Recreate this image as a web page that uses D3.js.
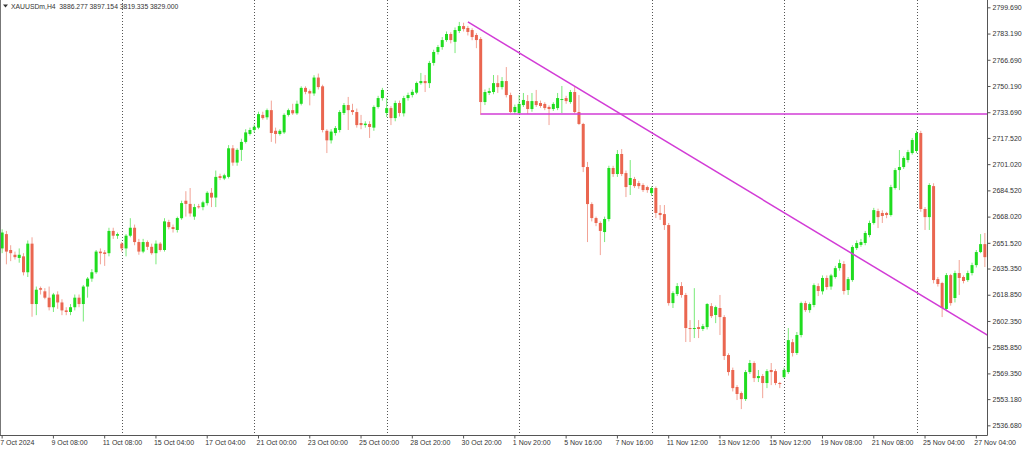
<!DOCTYPE html>
<html><head><meta charset="utf-8">
<script src="https://cdn.jsdelivr.net/npm/d3@7"></script>
<style>html,body{margin:0;padding:0;background:#fff;overflow:hidden}svg text{font-family:"Liberation Sans",Arial,sans-serif}</style>
</head><body><svg id="c" width="1024" height="449"></svg>
<script>
const symbolTitle = "XAUUSDm,H4";
const titleValues = "3886.277 3897.154 3819.335 3829.000";

const openP = [
2648,2657,2647,2644,2642,2643,2633,2651,2613,2623,
2621,2617,2611,2619,2614,2609,2608,2611,2617,2613,
2624,2629,2633,2646,2645.5,2645,2659,2656,2651,2648,
2656,2661,2652,2646,2652,2649,2645,2651,2647,2664.6,
2661.4,2659.6,2667,2678,2676,2668,2674.5,2674,2676.5,2683,
2680,2693.5,2692,2693,2711,2702,2710,2715,2720,2722.5,
2724,2732,2730.5,2735,2722,2720,2721,2732,2735,2733,
2739,2749,2747,2745.5,2755.5,2750,2722,2716,2720.6,2722.5,
2733.2,2738.2,2735,2733.8,2726.9,2725.6,2726.3,2724,2737,2742.6,
2733.2,2736.3,2730,2739.5,2733,2742.6,2744.5,2746,2752,2753.3,
2752,2764.7,2771.6,2774.7,2779.1,2782.9,2778,2784.8,2787.9,2786.7,
2785.4,2782.3,2779.8,2740.1,2745.8,2746.4,2752,2749.5,2753.3,2744.5,
2733.8,2733.2,2738.2,2740.7,2735.7,2740.7,2739.5,2738.9,2737,2735.7,
2736.3,2741.4,2742.6,2740.1,2746.4,2733.8,2726.3,2699.2,2675.9,2667.1,
2664,2658.3,2666.5,2698.6,2694.8,2707.4,2695.4,2687.9,2691.7,2689.1,
2687.9,2686.6,2682.8,2686,2670.3,2669.6,2662.7,2613.6,2619.3,2624.3,
2618.7,2597.9,2597.3,2598.5,2597.3,2598.5,2611.7,2606.1,2610.5,2604.8,
2580.9,2571.5,2560.8,2557,2553.2,2570.2,2575.9,2566.4,2567.7,2563.3,
2571.5,2570.8,2563.3,2567,2570.2,2589,2582.2,2593.5,2613.6,2609.2,
2612.4,2624.3,2621,2629.4,2624,2630,2635.6,2638.2,2621.8,2628.1,
2648.2,2650.2,2651.4,2656.4,2664,2671.5,2670.3,2670.3,2669,2686,
2697.3,2699.2,2703.6,2708,2709.3,2720.6,2672.8,2667.7,2687.2,2628.7,
2626.2,2609.9,2631.2,2616.8,2632.5,2630,2628.1,2632.5,2637.5,2645.7,
2650.7];

const highP = [
2660,2659,2650,2646,2648,2645,2653,2655,2624,2624,
2623,2624,2620,2621,2616,2611,2613,2619,2619,2625,
2630,2635,2647,2648,2647,2661,2661,2658,2652,2657,
2667,2663,2654,2654,2653,2651,2653,2652,2667,2666,
2663,2668,2678,2684,2686,2676,2676,2678,2684,2686,
2697,2695,2695,2713,2713,2711,2717,2723,2724,2726,
2734,2734,2736,2741,2724,2723,2733,2736,2739,2741,
2750,2750,2748,2757,2758,2751,2723,2723,2725,2735,
2739.5,2743.3,2739,2736,2732,2728,2728,2738,2744,2749,
2742.6,2737.5,2741,2741,2744,2746,2748,2753,2758.4,2757.1,
2766,2773,2776,2781,2784.5,2784,2787,2790.5,2790,2788,
2786.5,2783.5,2781,2748,2749,2757.1,2757,2755.8,2762.1,2746,
2738.5,2744.5,2745.8,2744.5,2745.8,2747.7,2741,2740,2738,2740,
2745.8,2750.2,2744,2747.7,2749.5,2744.5,2727,2702.4,2677,2668,
2665,2668,2700,2700,2709.9,2710.5,2697,2703.6,2693,2690.5,
2689,2687.5,2687,2687,2675.3,2675.3,2664,2621,2626.2,2626.8,
2620,2602.9,2623,2602.9,2600.5,2613.6,2613.6,2612,2618.7,2606,
2582,2573,2562,2558,2571.5,2577.8,2577,2571.5,2569,2572,
2575.9,2572,2564,2573,2597.9,2591,2595.4,2614.5,2615,2614,
2626,2626,2631,2631,2632,2637,2641,2640,2630,2650,
2653,2654,2659,2665.5,2673.5,2673,2672,2671,2688,2698.5,
2709.9,2706,2710,2717.5,2722,2722,2674,2689,2689,2630,
2627,2632.5,2632,2634,2640.7,2631,2634,2639,2647,2657,
2657.7];

const lowP = [
2645,2638,2640,2641,2639,2631,2630,2605,2606,2619,
2616,2609,2608,2610,2606,2606,2606,2609,2611,2602,
2617,2627,2632,2638,2637,2643,2654,2654,2646,2643,
2655,2650,2644,2645,2647,2644,2638,2646,2646,2660,
2658,2658,2666,2668,2668,2666,2673,2672,2675,2674,
2674,2691,2691,2692,2700,2700,2703,2714,2719,2721,
2723,2729,2729,2715,2714,2719,2720,2731,2732,2732,
2738,2745,2738,2744,2748,2721,2708,2714,2719,2721,
2732,2722.5,2732,2724,2723,2724,2717.5,2722,2736,2741,
2730.7,2725.6,2728,2731,2731,2741,2743,2745,2751,2746.4,
2748.9,2763,2770,2773,2778,2777,2770.9,2783.5,2784.5,2782,
2779,2774,2732,2738.2,2744.5,2745,2745.8,2748,2743,2733.2,
2732.5,2732.3,2737,2732.6,2734,2737,2736.5,2735,2725.6,2734.5,
2735,2733.2,2739,2739,2733,2725.6,2696,2652,2665,2662,
2643.8,2652,2665,2693,2693,2693.5,2680.3,2681.6,2686,2685.5,
2683.5,2683,2681,2667.1,2665.9,2659.6,2612,2610.5,2618,2617,
2589.1,2589.1,2591.6,2591.6,2596,2597,2604.2,2601,2593.5,2577.8,
2568,2558,2552.6,2546.9,2552,2569,2563.9,2563.9,2553.8,2560.1,
2562,2562,2560.1,2566.4,2569,2580,2581,2592,2608,2607.5,
2611,2618,2619,2622,2622,2629,2634,2619,2618.7,2627,
2647,2649,2650,2655,2663,2660.8,2664,2667,2668,2685,
2684.7,2698,2702,2707,2708,2671,2659.6,2659.6,2626,2624,
2604.8,2608.5,2612,2614,2618.7,2626,2627,2631,2636,2645,
2636.3];

const closeP = [
2658,2646,2645,2642.5,2644,2633,2651,2613,2622,2622,
2617,2611,2619,2614,2609,2608,2611,2617,2613,2624,
2629,2633,2646,2645,2644.5,2659,2656,2657,2648,2656,
2661,2652,2646,2652,2649,2645,2651,2647,2665,2661.4,
2660.2,2667.1,2676.5,2676,2670,2674,2674,2677,2683,2680,
2693,2692.3,2694,2711,2702,2710,2715,2721,2722.5,2724.5,
2732.5,2730,2735,2720.6,2720,2722,2732,2735,2733,2739,
2749,2746.5,2745.5,2755.5,2749.5,2722.5,2716,2721.5,2723.7,2733.8,
2738.2,2735,2733.8,2725.6,2725.6,2726.5,2724.4,2737,2742.6,2747.7,
2736.3,2730,2739.5,2733.2,2742.6,2744.5,2746.5,2752.1,2753.3,2752,
2764.7,2771.6,2774.7,2779.1,2782.9,2779.1,2785.4,2787.9,2786,2784.2,
2781,2779.1,2740.1,2746.4,2747,2752,2749.5,2753.3,2744.5,2733.8,
2737,2738.9,2741.4,2735.7,2740.7,2738.2,2737.6,2736.3,2735.7,2738.9,
2742.6,2742,2740.7,2746.4,2733.8,2726.3,2699.2,2675.9,2667.1,2664,
2659,2666.5,2698.6,2694.8,2707.4,2694.8,2686.6,2692.3,2687.2,2687.2,
2684.7,2684.7,2686,2670.3,2669,2662.7,2613.6,2619.9,2624.3,2618.7,
2597.9,2597.3,2597.9,2597.3,2599.1,2613,2605.4,2611.1,2604.8,2580.3,
2570.2,2560.1,2556.4,2553.2,2570.2,2575.9,2566.4,2567.7,2563.3,2570.8,
2570.2,2563.3,2562.7,2571.5,2590.3,2582.2,2593.5,2613.6,2609.2,2613,
2624.9,2621.2,2629.4,2623.7,2631,2635.6,2638.8,2621.2,2628.7,2648.9,
2651.4,2652,2657.7,2664,2672.1,2667.7,2668.4,2669,2686.6,2697.3,
2699.2,2704.9,2708.6,2716.2,2720.6,2672.8,2667.7,2687.9,2628.1,2625.6,
2610.5,2631.2,2613.6,2632.5,2629.4,2627.5,2632.5,2637.5,2645.7,2650.7,
2642.5];

const xTickIdx = [0,12,24,36,48,60,72,84,96,108,120,132,144,156,168,180,192,204,216,228];
const xTickLabels = ["7 Oct 2024","9 Oct 08:00","11 Oct 08:00","15 Oct 04:00","17 Oct 04:00","21 Oct 00:00","23 Oct 00:00","25 Oct 00:00","28 Oct 20:00","30 Oct 20:00","1 Nov 20:00","5 Nov 16:00","7 Nov 16:00","11 Nov 12:00","13 Nov 12:00","15 Nov 12:00","19 Nov 08:00","21 Nov 08:00","25 Nov 04:00","27 Nov 04:00"];
const separatorIdx = [28,59,90,121,152,183,214];
const yTickLabels = ["2799.690","2783.190","2766.690","2750.190","2733.690","2717.520","2701.020","2684.520","2668.020","2651.520","2635.350","2618.850","2602.350","2585.850","2569.350","2553.180","2536.680"];
const trendBars = [109, 214];
const trendPrices = [2790.5, 2620.3];
const hLineBar = 112;
const hLinePrice = 2732.6;

const svg = d3.select("#c");
const plot = {left:0, right:987, top:0, bottom:435};
const n = openP.length;
const x = d3.scaleBand().domain(d3.range(n)).range([plot.left, plot.right]).paddingInner(0.3).paddingOuter(0.15);
const y = d3.scaleLinear().domain([2530.6, 2804.3]).range([plot.bottom, plot.top]);
const cx = i => x(i) + x.bandwidth()/2;
const bull = "#1fdc1f", bear = "#ea6650", lineCol = "#d23cd6";
const fontSize = "7px";

svg.append("defs").append("clipPath").attr("id","clip").append("rect")
  .attr("x",plot.left).attr("y",plot.top).attr("width",plot.right-plot.left).attr("height",plot.bottom-plot.top);

// period separators
svg.append("g").selectAll("line").data(separatorIdx).join("line")
  .attr("x1",d=>Math.round(cx(d))+0.5).attr("x2",d=>Math.round(cx(d))+0.5)
  .attr("y1",plot.top).attr("y2",plot.bottom+3)
  .attr("stroke","#555").attr("stroke-width",1).attr("stroke-dasharray","1,2");

// candles
const idx = d3.range(n);
const g = svg.append("g").attr("clip-path","url(#clip)");
g.selectAll("line.w").data(idx).join("line").attr("class","w")
  .attr("x1",cx).attr("x2",cx)
  .attr("y1",i=>y(highP[i])).attr("y2",i=>y(lowP[i]))
  .attr("stroke",i=>closeP[i]>=openP[i]?bull:bear).attr("stroke-opacity",0.6).attr("stroke-width",1);
g.selectAll("rect.b").data(idx).join("rect").attr("class","b")
  .attr("x",i=>x(i)).attr("width",x.bandwidth())
  .attr("y",i=>y(Math.max(openP[i],closeP[i])))
  .attr("height",i=>Math.max(1,Math.abs(y(openP[i])-y(closeP[i]))))
  .attr("fill",i=>closeP[i]>=openP[i]?bull:bear);

// trend line (ray) and horizontal line
const slope = (trendPrices[1]-trendPrices[0])/(trendBars[1]-trendBars[0]);
const endBar = n + 1;
g.append("line")
  .attr("x1",cx(trendBars[0])).attr("y1",y(trendPrices[0]))
  .attr("x2",cx(trendBars[0]) + (endBar-trendBars[0])*x.step())
  .attr("y2",y(trendPrices[0] + slope*(endBar-trendBars[0])))
  .attr("stroke",lineCol).attr("stroke-width",1.5);
g.append("line")
  .attr("x1",cx(hLineBar)).attr("x2",plot.right)
  .attr("y1",y(hLinePrice)).attr("y2",y(hLinePrice))
  .attr("stroke",lineCol).attr("stroke-width",1.5);

// frame
svg.append("line").attr("x1",0.5).attr("x2",0.5).attr("y1",0).attr("y2",plot.bottom).attr("stroke","#777");
svg.append("line").attr("x1",0).attr("x2",plot.right+0.5).attr("y1",plot.bottom+0.5).attr("y2",plot.bottom+0.5).attr("stroke","#555");
svg.append("line").attr("x1",plot.right+0.5).attr("x2",plot.right+0.5).attr("y1",0).attr("y2",plot.bottom+0.5).attr("stroke","#555");

// right price axis
const ya = svg.append("g").attr("transform",`translate(${plot.right+0.5},0)`)
  .call(d3.axisRight(y).tickValues(yTickLabels.map(Number)).tickFormat((d,i)=>yTickLabels[i]).tickSize(3).tickPadding(2));
ya.select(".domain").remove();
ya.selectAll("line").attr("stroke","#555");
ya.selectAll("text").attr("font-size",fontSize).attr("fill","#333").style("font-family","'Liberation Sans',Arial,sans-serif");

// bottom time axis
const xa = svg.append("g").attr("transform",`translate(0,${plot.bottom+0.5})`)
  .call(d3.axisBottom(x).tickValues(xTickIdx).tickFormat((d,i)=>xTickLabels[i]).tickSize(3).tickPadding(2));
xa.select(".domain").remove();
xa.selectAll("line").attr("stroke","#555");
xa.selectAll("text").attr("text-anchor","start").attr("dx",-2).attr("font-size",fontSize).attr("fill","#333")
  .style("font-family","'Liberation Sans',Arial,sans-serif");

// header
svg.append("path").attr("d","M3,4.5 L8,4.5 L5.5,7.5 Z").attr("fill","#333");
svg.append("text").attr("x",11).attr("y",9).attr("font-size","6.8px").attr("fill","#333")
  .style("white-space","pre").text(symbolTitle + "  " + titleValues);
</script></body></html>
